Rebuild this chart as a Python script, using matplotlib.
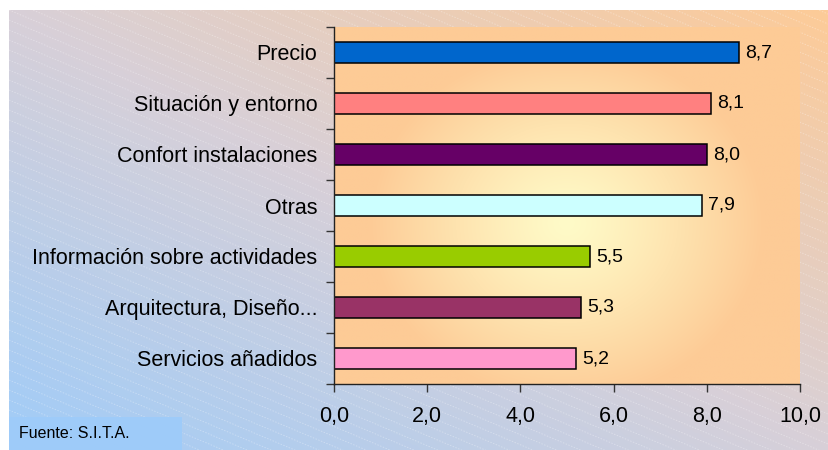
import numpy as np
import matplotlib
matplotlib.use("Agg")
import matplotlib.pyplot as plt
from matplotlib.colors import LinearSegmentedColormap, to_rgb
from matplotlib.collections import LineCollection
from matplotlib.patches import Rectangle

categories = ["Precio", "Situación y entorno", "Confort instalaciones", "Otras",
              "Información sobre actividades", "Arquitectura, Diseño...", "Servicios añadidos"]
values = [8.7, 8.1, 8.0, 7.9, 5.5, 5.3, 5.2]
bar_colors = ["#0066CC", "#FF8080", "#660066", "#CCFFFF", "#99CC00", "#993366", "#FF99CC"]
xticks = [0, 2, 4, 6, 8, 10]
source = "Fuente: S.I.T.A."

plt.rcParams['font.family'] = ['Liberation Sans', 'DejaVu Sans']

W, H = 829, 450
fig = plt.figure(figsize=(W / 100, H / 100), dpi=100)
fig.patch.set_facecolor("white")

# figure background: diagonal blue -> grey -> peach gradient with faint slanted lines
bw, bh = W - 9, H - 10
bg = fig.add_axes([9 / W, 0, bw / W, bh / H])
bg.set_axis_off()
gx, gy = np.meshgrid(np.linspace(0, 1, 200), np.linspace(0, 1, 110))
t = np.clip(gx * 0.5 + gy * 0.5, 0, 1)
bg_cmap = LinearSegmentedColormap.from_list("bg", ["#a0ccf8", "#d8d0d8", "#fdcb98"])
bg.imshow(bg_cmap(t), origin="lower", extent=[0, bw, 0, bh], aspect="auto", interpolation="bilinear")
segs = []
for c in np.arange(0, bh + bw * 0.42 + 10, 10):
    segs.append([(0, c), (bw, c - bw * 0.42)])
bg.add_collection(LineCollection(segs, colors=[(1, 1, 1, 0.3)], linewidths=0.7, linestyles=(0, (1.5, 1.5))))
# source box
bg.add_patch(Rectangle((0, 0), 173, 33, facecolor="#9ecbf9", edgecolor="none", zorder=3))
bg.set_xlim(0, bw)
bg.set_ylim(0, bh)

# plot area
ax = fig.add_axes([334 / W, 1 - 384 / H, (800 - 334) / W, (384 - 27) / H])
px, py = np.meshgrid(np.linspace(-1, 1, 300), np.linspace(-1, 1, 200))
r = np.clip(np.sqrt((px / 0.85) ** 2 + ((py + 0.1) / 1.0) ** 2), 0, 1)[..., None]
r = r ** 1.2
ce = np.array(to_rgb("#fffbc8"))
ed = np.array(to_rgb("#fdcb96"))
pimg = ce * (1 - r) + ed * r
ax.imshow(pimg, extent=[0, 10, -0.5, 6.5], aspect="auto", zorder=0, interpolation="bilinear")

ypos = np.arange(len(categories))
ax.barh(ypos, values, height=0.4, color=bar_colors, edgecolor="black", linewidth=1.1, zorder=2)
for y, v in zip(ypos, values):
    ax.text(v + 0.13, y, f"{v:.1f}".replace(".", ","), va="center", ha="left", fontsize=14, zorder=3)

ax.set_xlim(0, 10)
ax.set_ylim(6.5, -0.5)
ax.set_xticks(xticks)
ax.set_xticklabels([f"{x:.1f}".replace(".", ",") for x in xticks], fontsize=15.5)
ax.set_yticks(ypos)
ax.set_yticklabels(categories, fontsize=15.5)
ax.set_yticks(np.arange(-0.5, 7, 1), minor=True)
ax.tick_params(axis="y", which="major", length=0, pad=12)
ax.tick_params(axis="y", which="minor", length=6, width=1, color="#333333")
ax.tick_params(axis="x", which="major", length=6, width=1, color="#333333", pad=10)
for s in ["top", "right"]:
    ax.spines[s].set_visible(False)
for s in ["left", "bottom"]:
    ax.spines[s].set_color("#222222")
    ax.spines[s].set_linewidth(1)

fig.text(19 / W, 1 - 434 / H, source, fontsize=11.5, va="center", ha="left")

fig.savefig("out.png", dpi=100)
